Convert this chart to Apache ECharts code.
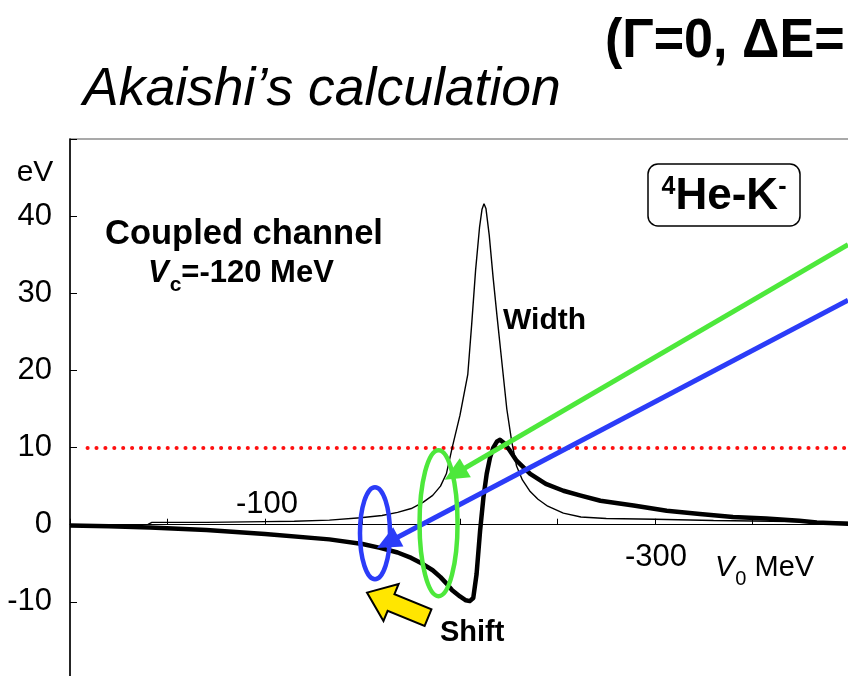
<!DOCTYPE html>
<html>
<head>
<meta charset="utf-8">
<script src="https://cdn.jsdelivr.net/npm/echarts@6/dist/echarts.min.js"></script>
<style>
  html, body { margin: 0; padding: 0; background: #fff; }
  #chart { width: 848px; height: 676px; }
</style>
</head>
<body>
<div id="chart"></div>
<script>
// Potential depth V0 (MeV) and width of the 4He-K- state (eV)
const widthV0 = [0, -20, -40, -42, -70, -100, -115, -133, -149, -160, -168, -175, -181, -186, -190, -193, -196, -200, -204, -206, -208, -210, -211.3, -212.3, -213.3, -215, -217, -219, -221.5, -224, -226.5, -229, -232, -236, -240, -245, -253, -262, -275, -300, -330, -360, -400];
const widthE  = [0, 0, 0.05, 0.3, 0.3, 0.4, 0.45, 0.6, 0.9, 1.2, 1.6, 2.1, 2.9, 3.8, 5.0, 6.6, 10.0, 14.2, 19.5, 26, 33, 38.5, 40.9, 41.6, 41.0, 37.5, 32, 27, 21, 15, 10.8, 7.6, 5.8, 4.3, 3.3, 2.4, 1.5, 1.0, 0.8, 0.7, 0.55, 0.45, 0.3];

// Potential depth V0 (MeV) and level shift (eV)
const shiftV0 = [0, -20, -41, -70, -100, -133, -150, -159, -168, -175, -181, -186, -190, -193, -196, -200, -203, -205, -206.8, -208.5, -210.3, -212, -213.7, -215.4, -217.1, -219, -220.5, -223, -225.6, -229, -236, -244, -253, -261.5, -272, -289, -306, -323, -340, -357, -374, -383, -400];
const shiftE  = [-0.1, -0.2, -0.35, -0.7, -1.2, -1.9, -2.5, -3.0, -3.6, -4.3, -5.1, -5.9, -6.8, -7.6, -8.5, -9.3, -9.8, -9.9, -9.5, -6.4, -0.8, 3.5, 6.6, 8.7, 10.0, 10.8, 11.0, 10.5, 9.6, 8.3, 6.6, 5.3, 4.4, 3.8, 3.1, 2.5, 1.8, 1.4, 1.0, 0.8, 0.5, 0.3, 0.1];

// Axis tick labels
const eVTickLabels = [40, 30, 20, 10, 0, -10];
const v0LabelsAbove = [-100];
const v0LabelsBelow = [-300];

// 10 eV reference level
const thresholdE = 10;

// Arrow anchors [V0, E]: from the upper right down to the curves
const greenArrowFrom = [-399, 36.3];
const greenArrowTo   = [-197.4, 6.6];
const blueArrowFrom  = [-399, 29.1];
const blueArrowTo    = [-162.9, -2.3];
// Ellipse centres and yellow arrow tip [V0, E]
const greenRingAt = [-189, 0.2];
const blueRingAt  = [-156.4, -1.1];
const shiftArrowTip = [-152.3, -8.8];

const FONT = '"Liberation Sans", Arial, Helvetica, sans-serif';
const GREEN = '#4de83b';
const BLUE = '#2b3cf8';

const pair = (xs, ys) => xs.map((x, i) => [x, ys[i]]);

const chart = echarts.init(document.getElementById('chart'), null, { renderer: 'canvas' });

const option = {
  animation: false,
  backgroundColor: '#fff',
  grid: {
    left: 70, right: -2, top: 139, bottom: -3,
    containLabel: false, outerBoundsMode: 'none',
    show: true, borderColor: '#555', borderWidth: 1.2, backgroundColor: 'transparent'
  },
  xAxis: {
    type: 'value', inverse: true, min: -400, max: 0, interval: 50,
    axisLine: { onZero: true, lineStyle: { color: '#000', width: 1.2 } },
    axisTick: { show: true, inside: true, length: 6, lineStyle: { color: '#000', width: 1 } },
    splitLine: { show: false },
    axisLabel: { show: false }
  },
  yAxis: {
    type: 'value', min: -20, max: 50, interval: 10,
    axisLine: { show: true, onZero: false, lineStyle: { color: '#000', width: 1.5 } },
    axisTick: { show: true, inside: true, length: 7, lineStyle: { color: '#000', width: 1 } },
    splitLine: { show: false },
    axisLabel: {
      margin: 18, color: '#000', fontSize: 31, fontFamily: FONT,
      formatter: v => eVTickLabels.includes(v) ? String(v) : ''
    }
  },
  series: [{
    name: 'Shift',
    type: 'line',
    data: pair(shiftV0, shiftE),
    showSymbol: false, symbol: 'none',
    lineStyle: { color: '#000', width: 4.5, join: 'round' },
    z: 3,
    markLine: {
      silent: true, symbol: 'none', label: { show: false },
      lineStyle: { color: '#ff1010', width: 4, type: [0.1, 8.8], cap: 'round' },
      data: [[{ coord: [-9, thresholdE] }, { coord: [-400, thresholdE] }]],
      z: 2
    }
  }, {
    name: 'Width',
    type: 'line',
    data: pair(widthV0, widthE),
    showSymbol: false, symbol: 'none',
    lineStyle: { color: '#000', width: 1.4 },
    z: 4,
    markLine: {
      silent: true, label: { show: false },
      symbol: ['none', 'triangle'], symbolSize: [22, 24],
      data: [
        [{ coord: greenArrowFrom, lineStyle: { color: GREEN, width: 5, type: 'solid' }, itemStyle: { color: GREEN } },
         { coord: greenArrowTo }],
        [{ coord: blueArrowFrom, lineStyle: { color: BLUE, width: 5, type: 'solid' }, itemStyle: { color: BLUE } },
         { coord: blueArrowTo }]
      ],
      z: 6
    }
  }]
};

chart.setOption(option);

// Positions derived from the axes
const px = p => chart.convertToPixel({ gridIndex: 0 }, p);
const g = px(greenRingAt), b = px(blueRingAt), tip = px(shiftArrowTip);
const zeroY = px([0, 0])[1];

// yellow block arrow pointing up-left toward the shift minimum
const dir = [-0.925, -0.379];             // tail -> tip
const back = [-dir[0], -dir[1]];
const perp = [dir[1], -dir[0]];
const local = [[0, 0], [26, -20], [26, -9], [66, -9], [66, 9], [26, 9], [26, 20]];
const arrowPts = local.map(([a, s]) => [tip[0] + a * back[0] + s * perp[0], tip[1] + a * back[1] + s * perp[1]]);

const richSub = (size, weight) => ({
  m: { fontSize: size, fontWeight: weight, fontFamily: FONT, lineHeight: size + 4, verticalAlign: 'top', fill: '#000' },
  i: { fontSize: size, fontWeight: weight, fontStyle: 'italic', fontFamily: FONT, lineHeight: size + 4, verticalAlign: 'top', fill: '#000' },
  s: { fontSize: Math.round(size * 0.68), fontWeight: weight, fontFamily: FONT, lineHeight: Math.round(size * 0.68), padding: [Math.round(size * 0.55), 0, 0, 1], verticalAlign: 'top', fill: '#000' }
});

const v0Labels = [
  ...v0LabelsAbove.map(v => ({ type: 'text', x: px([v, 0])[0] + 2, y: zeroY - 20, z: 10,
    style: { text: String(v), font: '31px ' + FONT, fill: '#000', align: 'center', verticalAlign: 'middle' } })),
  ...v0LabelsBelow.map(v => ({ type: 'text', x: px([v, 0])[0] + 1, y: zeroY + 33, z: 10,
    style: { text: String(v), font: '31px ' + FONT, fill: '#000', align: 'center', verticalAlign: 'middle' } }))
];

chart.setOption({
  graphic: [
    ...v0Labels,
    // condensed bold heading
    { type: 'text', x: 605, y: 42, scaleX: 0.93, z: 10,
      style: { text: '(Γ=0, ΔE=', font: 'bold 56px ' + FONT, fill: '#000', align: 'left', verticalAlign: 'middle' } },
    { type: 'text', x: 83, y: 90, z: 10,
      style: { text: 'Akaishi’s calculation', font: 'italic 53.5px ' + FONT, fill: '#000', align: 'left', verticalAlign: 'middle' } },
    { type: 'text', x: 35, y: 173, z: 10,
      style: { text: 'eV', font: '30px ' + FONT, fill: '#000', align: 'center', verticalAlign: 'middle' } },
    { type: 'text', x: 105, y: 234, z: 10,
      style: { text: 'Coupled channel', font: 'bold 34.5px ' + FONT, fill: '#000', align: 'left', verticalAlign: 'middle' } },
    { type: 'text', x: 148, y: 275, z: 10,
      style: { text: '{i|V}{s|c}{m|=-120 MeV}', rich: richSub(31, 'bold'), align: 'left', verticalAlign: 'middle' } },
    { type: 'text', x: 503, y: 321, z: 10,
      style: { text: 'Width', font: 'bold 30px ' + FONT, fill: '#000', align: 'left', verticalAlign: 'middle' } },
    { type: 'text', x: 440, y: 633, z: 10,
      style: { text: 'Shift', font: 'bold 29px ' + FONT, fill: '#000', align: 'left', verticalAlign: 'middle' } },
    { type: 'text', x: 715, y: 570, z: 10,
      style: { text: '{i|V}{s|0}{m| MeV}', rich: richSub(29, 'normal'), align: 'left', verticalAlign: 'middle' } },
    { type: 'rect', z: 9, shape: { x: 648, y: 164, width: 152, height: 62, r: 10 },
      style: { fill: '#fff', stroke: '#000', lineWidth: 1.5 } },
    { type: 'text', x: 724, y: 198, z: 10,
      style: {
        text: '{p|4}{m|He-K}{p|-}', align: 'center', verticalAlign: 'middle',
        rich: {
          m: { fontSize: 44, fontWeight: 'bold', fontFamily: FONT, lineHeight: 46, verticalAlign: 'top', fill: '#000' },
          p: { fontSize: 25, fontWeight: 'bold', fontFamily: FONT, lineHeight: 25, verticalAlign: 'top', fill: '#000' }
        }
      } },
    { type: 'ellipse', z: 8, shape: { cx: g[0], cy: g[1], rx: 19, ry: 73 },
      style: { fill: 'none', stroke: GREEN, lineWidth: 4.5 } },
    { type: 'ellipse', z: 8, shape: { cx: b[0], cy: b[1], rx: 15, ry: 46 },
      style: { fill: 'none', stroke: BLUE, lineWidth: 4.5 } },
    { type: 'polygon', z: 8, shape: { points: arrowPts },
      style: { fill: '#ffe600', stroke: '#000', lineWidth: 2, lineJoin: 'miter' } }
  ]
});
</script>
</body>
</html>
